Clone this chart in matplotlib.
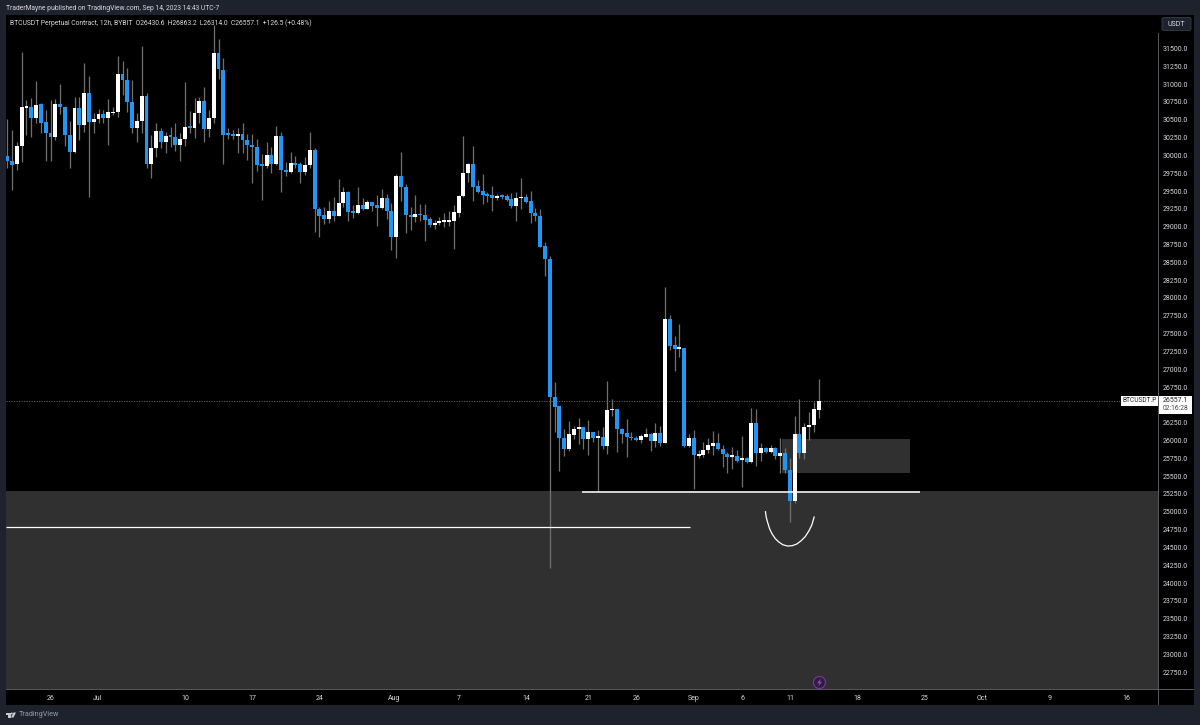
"""
BTCUSDT 12h candles as published on TradingView, drawn with matplotlib.
"""
import matplotlib
matplotlib.use("Agg")
import matplotlib.pyplot as plt
from matplotlib.patches import Ellipse, FancyBboxPatch, Polygon, Rectangle

plt.rcParams["font.family"] = ["Roboto", "DejaVu Sans"]

BG = "#1e222d"
BLUE = "#2196f3"
WICK = "#707070"
ZONE = "#303030"
AXIS = "#55565c"
TEXT = "#d8d9dc"

# 12h candles, oldest first
opens = [
    29991, 29916, 29879, 30131, 30669, 30679, 30524, 30716, 30464, 30319,
    30258, 30721, 30679, 30291, 30052, 30660, 30431, 30880, 30468, 30510,
    30580, 30529, 30590, 30609, 31146, 31058, 30754, 30389, 30487, 30833,
    29874, 30103, 30337, 30188, 30272, 30262, 30146, 30225, 30403, 30389,
    30599, 30758, 30365, 30520, 31441, 31203, 30300, 30300, 30267, 30300,
    30220, 30146, 30117, 29865, 29851, 30005, 29884, 30267, 29790, 29767,
    29888, 29884, 29771, 29865, 30076, 29253, 29164, 29108, 29220, 29155,
    29328, 29492, 29211, 29188, 29305, 29249, 29347, 29305, 29267, 29398,
    29225, 28851, 29707, 29557, 29169, 29132, 29178, 29164, 29108, 29029,
    29057, 29071, 29071, 29080, 29197, 29431, 29749, 29880, 29567, 29496,
    29445, 29440, 29408, 29431, 29426, 29384, 29295, 29398, 29422, 29361,
    29192, 29150, 28729, 28547, 26615, 26484, 26040, 25881, 26082, 26166,
    26185, 26016, 26119, 26040, 26044, 25923, 26423, 26437, 26166, 26101,
    26049, 26035, 26002, 26049, 26091, 25988, 26101, 25965, 27705, 27335,
    27284, 27298, 25923, 26035, 25787, 25801, 25862, 25927, 25960, 25881,
    25810, 25768, 25787, 25722, 25750, 25698, 26245, 25824, 25899, 25843,
    25895, 25782, 25829, 25586, 25151, 26091, 25824, 26189, 26213, 26430.6,
]
highs = [
    30506, 30356, 30192, 31446, 30777, 30800, 31043, 30739, 30637, 30777,
    30791, 31001, 30693, 30482, 30824, 30824, 31291, 31114, 30590, 30646,
    30637, 30791, 30683, 31399, 31319, 31221, 31058, 30590, 31539, 30870,
    30286, 30450, 30379, 30333, 30393, 30450, 30309, 31034, 30627, 30800,
    30824, 30964, 30637, 31829, 31633, 31362, 30379, 30356, 30379, 30450,
    30295, 30295, 30225, 30015, 30192, 30122, 30412, 30323, 29902, 30052,
    29996, 29912, 29972, 30323, 30099, 29270, 29272, 29366, 29422, 29665,
    29562, 29501, 29305, 29553, 29398, 29375, 29352, 29445, 29525, 29459,
    29337, 29735, 30044, 29599, 29281, 29440, 29319, 29319, 29132, 29094,
    29132, 29197, 29220, 29300, 29440, 30273, 29889, 30132, 29655, 29740,
    29487, 29576, 29454, 29459, 29459, 29468, 29492, 29679, 29454, 29506,
    29258, 29244, 28786, 28590, 26826, 26490, 26157, 26274, 26208, 26311,
    26194, 26288, 26124, 26147, 26194, 26830, 26578, 26445, 26171, 26297,
    26115, 26063, 26087, 26171, 26101, 26241, 26208, 28149, 27761, 27466,
    27635, 27305, 26091, 26147, 25866, 25979, 26030, 26138, 26100, 25937,
    25843, 25904, 25866, 26063, 25764, 26451, 26442, 25960, 25904, 25937,
    25904, 26030, 25890, 25750, 26348, 26582, 26241, 26404, 26545, 26863.2,
]
lows = [
    29818, 29514, 29795, 29912, 30286, 30253, 30459, 30309, 29926, 29926,
    30216, 30580, 30131, 29818, 30038, 30216, 30333, 29421, 30319, 30459,
    30459, 30141, 30566, 30543, 30847, 30613, 30319, 30183, 30319, 29818,
    29678, 29982, 30099, 30029, 30122, 30066, 29926, 30131, 30319, 30248,
    30459, 30192, 30253, 30450, 31076, 29874, 30230, 30225, 30038, 30038,
    29935, 29617, 29785, 29374, 29818, 29748, 29865, 29491, 29711, 29757,
    29827, 29617, 29725, 29827, 28931, 28860, 29038, 29057, 29085, 29150,
    29272, 29076, 29118, 29178, 29235, 29244, 29220, 29010, 29249, 29104,
    28673, 28556, 29366, 28907, 28954, 29071, 29085, 28800, 29001, 28973,
    29024, 28991, 29010, 28683, 29132, 29422, 29623, 29366, 29468, 29319,
    29351, 29220, 29375, 29384, 29366, 29267, 29085, 29244, 29337, 29057,
    29085, 28711, 28308, 24211, 26124, 25577, 25787, 25857, 26016, 25951,
    25876, 25797, 25984, 25273, 25881, 25811, 26348, 25843, 25970, 25764,
    26007, 25993, 25970, 26044, 25848, 25913, 25923, 25960, 27270, 26975,
    27167, 25915, 25904, 25315, 25750, 25764, 25820, 25796, 25866, 25623,
    25548, 25600, 25703, 25352, 25679, 25689, 25642, 25712, 25829, 25820,
    25745, 25548, 25539, 24861, 25128, 25759, 25745, 26007, 26114, 26314.0,
]
closes = [
    29916, 29870, 30131, 30674, 30683, 30524, 30711, 30459, 30319, 30258,
    30721, 30679, 30291, 30052, 30660, 30431, 30880, 30468, 30515, 30580,
    30529, 30604, 30609, 31146, 31058, 30754, 30389, 30487, 30833, 29874,
    30103, 30337, 30188, 30272, 30258, 30146, 30225, 30398, 30389, 30599,
    30758, 30365, 30520, 31441, 31207, 30291, 30291, 30267, 30295, 30220,
    30141, 30117, 29865, 29856, 30005, 29884, 30267, 29790, 29767, 29888,
    29865, 29771, 29870, 30075, 29253, 29155, 29113, 29220, 29155, 29337,
    29492, 29211, 29192, 29305, 29249, 29347, 29295, 29267, 29398, 29220,
    28851, 29707, 29553, 29164, 29132, 29178, 29160, 29099, 29029, 29057,
    29080, 29080, 29085, 29202, 29431, 29754, 29880, 29562, 29487, 29440,
    29431, 29408, 29431, 29417, 29380, 29295, 29398, 29422, 29347, 29192,
    29150, 28720, 28542, 26615, 26475, 26040, 25881, 26091, 26166, 26185,
    26016, 26119, 26040, 26054, 25923, 26428, 26442, 26161, 26091, 26044,
    26030, 26002, 26063, 26091, 25988, 26101, 25965, 27705, 27331, 27284,
    27298, 25928, 26035, 25792, 25810, 25862, 25932, 25960, 25876, 25810,
    25768, 25787, 25717, 25750, 25698, 26245, 25824, 25899, 25843, 25895,
    25782, 25829, 25586, 25151, 26091, 25824, 26189, 26217, 26437, 26557.1,
]

# price axis, 26500 sits behind the last price label
price_ticks = [22750 + 250 * k for k in range(36) if 22750 + 250 * k != 26500]

# time axis: candle index and label
time_tick_pos = [8.95, 18.85, 37.0, 50.95, 64.95, 80.55, 94.05, 108.05, 121.05, 131.05, 143.05, 153.05, 163.05, 177.05, 191.05, 203.05, 217.05, 233.05]
time_tick_labels = ["26", "Jul", "10", "17", "24", "Aug", "7", "14", "21", "26", "Sep", "6", "11", "18", "25", "Oct", "9", "16"]

# drawn levels and boxes
last_price = 26557.1
zone_top = 25290
level_a = 25273
level_a_span = (119.8, 190.1)
level_b = 24787
level_b_end = 142.2
box_low, box_high = 25545, 26020
box_span = (161.3, 188.0)
curve_idx = [157.93, 158.07, 158.34, 158.76, 159.25, 159.94, 160.64, 161.54, 162.51,
             163.48, 164.46, 165.36, 166.19, 166.96, 167.58, 168.07]
curve_price = [25001, 24931, 24861, 24767, 24697, 24627, 24580, 24538, 24520,
               24524, 24548, 24594, 24650, 24730, 24814, 24926]


def px_box(x0, y0, x1, y1):
    """Figure fractions for a box given in image pixels."""
    return [x0 / 1200, 1 - y1 / 725, (x1 - x0) / 1200, (y1 - y0) / 725]


def fig_text(fig, x, y, s, **kw):
    kw.setdefault("color", TEXT)
    kw.setdefault("fontsize", 5.0)
    kw.setdefault("va", "center")
    fig.text(x / 1200, 1 - y / 725, s, **kw)


def fig_rect(fig, x0, y0, x1, y1, **kw):
    fig.add_artist(Rectangle((x0 / 1200, 1 - y1 / 725), (x1 - x0) / 1200, (y1 - y0) / 725,
                             transform=fig.transFigure, **kw))


def fig_poly(fig, points, **kw):
    fig.add_artist(Polygon([(x / 1200, 1 - y / 725) for x, y in points],
                           transform=fig.transFigure, **kw))


def main():
    fig = plt.figure(figsize=(12, 7.25), dpi=100, facecolor=BG)

    # black panel behind chart and both axes
    fig_rect(fig, 6, 15, 1194, 705, facecolor="black", edgecolor="none", zorder=0)

    ax = fig.add_axes(px_box(6, 15, 1158.5, 689))
    ax.set_facecolor("black")
    ax.set_xlim(-0.27, 239.8)
    ax.set_ylim(22514, 31970)
    ax.patch.set_zorder(1)

    # zones
    ax.axhspan(22514, zone_top, facecolor=ZONE, edgecolor="none", zorder=1)
    ax.add_patch(Rectangle((box_span[0], box_low), box_span[1] - box_span[0], box_high - box_low,
                           facecolor=ZONE, edgecolor="none", zorder=1))

    # candles
    xs = list(range(len(closes)))
    ax.vlines(xs, lows, highs, colors=WICK, linewidth=0.9, zorder=2)
    for x, o, c in zip(xs, opens, closes):
        color = "white" if c >= o else BLUE
        ax.bar(x, max(abs(c - o), 22), bottom=min(o, c), width=0.82, color=color, linewidth=0, zorder=3)

    # last price line, levels, freehand curve
    ax.axhline(last_price, color="#6a6a6a", linewidth=0.6, linestyle=(0, (1.5, 1.5)), zorder=2)
    ax.hlines(level_a, level_a_span[0], level_a_span[1], colors="white", linewidth=1.1, zorder=4)
    ax.hlines(level_b, -0.27, level_b_end, colors="white", linewidth=0.9, zorder=4)
    ax.plot(curve_idx, curve_price, color="white", linewidth=0.9, zorder=4)

    # axes
    for spine in ax.spines.values():
        spine.set_visible(False)
    ax.yaxis.tick_right()
    ax.set_yticks(price_ticks)
    ax.set_yticklabels([f"{p:.1f}" for p in price_ticks])
    ax.set_xticks(time_tick_pos)
    ax.set_xticklabels(time_tick_labels)
    ax.tick_params(axis="y", length=0, pad=3.2, labelsize=5.0, labelcolor=TEXT)
    ax.tick_params(axis="x", length=0, pad=4.2, labelsize=5.0, labelcolor=TEXT)

    # axis borders
    fig_rect(fig, 1158, 33, 1159.2, 705, facecolor=AXIS, edgecolor="none", zorder=5)
    fig_rect(fig, 6, 689, 1194, 690.2, facecolor=AXIS, edgecolor="none", zorder=5)

    # header and legend
    fig_text(fig, 6, 8, "TraderMayne published on TradingView.com, Sep 14, 2023 14:43 UTC-7", fontsize=4.85)
    fig_text(fig, 10, 23.5, "BTCUSDT Perpetual Contract, 12h, BYBIT  O26430.6  H26863.2  L26314.0  C26557.1  +126.5 (+0.48%)",
             fontsize=4.85)

    # USDT button
    fig.add_artist(FancyBboxPatch((1162 / 1200, 1 - 30.5 / 725), 29 / 1200, 13 / 725,
                                  boxstyle="round,pad=0,rounding_size=0.002", transform=fig.transFigure,
                                  facecolor=BG, edgecolor="#3a3e4a", linewidth=0.6, zorder=6))
    fig_text(fig, 1176, 24.5, "USDT", ha="center", zorder=7)

    # last price labels
    fig_rect(fig, 1121, 396, 1158, 405.5, facecolor="white", edgecolor="none", zorder=6)
    fig_text(fig, 1139.5, 400.8, "BTCUSDT.P", color="#222222", ha="center", fontsize=4.8, zorder=7)
    fig_rect(fig, 1159, 396, 1192, 413.5, facecolor="white", edgecolor="none", zorder=6)
    fig_text(fig, 1163, 400.8, f"{last_price:.1f}", color="#222222", zorder=7)
    fig_text(fig, 1163, 409, "02:16:28", color="#444444", fontsize=4.8, zorder=7)

    # lightning badge above the time axis
    fig.add_artist(Ellipse((819.5 / 1200, 1 - 682.5 / 725), 12 / 1200, 12 / 725, transform=fig.transFigure,
                           facecolor="#2c1f36", edgecolor="#7b2fa8", linewidth=0.9, zorder=6))
    fig_poly(fig, [(820.8, 678.5), (817, 683.2), (819.3, 683.2), (818.3, 686.5), (822, 681.8), (819.8, 681.8)],
             facecolor="#9c3fd0", edgecolor="none", zorder=7)

    # footer logo and name
    fig_rect(fig, 6, 712.5, 10.5, 714.5, facecolor="#c8c9cc", edgecolor="none", zorder=6)
    fig_rect(fig, 8, 712.5, 10.5, 717.5, facecolor="#c8c9cc", edgecolor="none", zorder=6)
    fig.add_artist(Ellipse((11.8 / 1200, 1 - 713.5 / 725), 2 / 1200, 2 / 725, transform=fig.transFigure,
                           facecolor="#c8c9cc", edgecolor="none", zorder=6))
    fig_poly(fig, [(13.5, 712.5), (16, 712.5), (13.5, 717.5), (11, 717.5)], facecolor="#c8c9cc", edgecolor="none", zorder=6)
    fig_text(fig, 19, 715, "TradingView", color="#9a9ca3", fontsize=5.2)

    fig.savefig("out.png", dpi=100, facecolor=BG)
    plt.close(fig)


if __name__ == "__main__":
    main()
